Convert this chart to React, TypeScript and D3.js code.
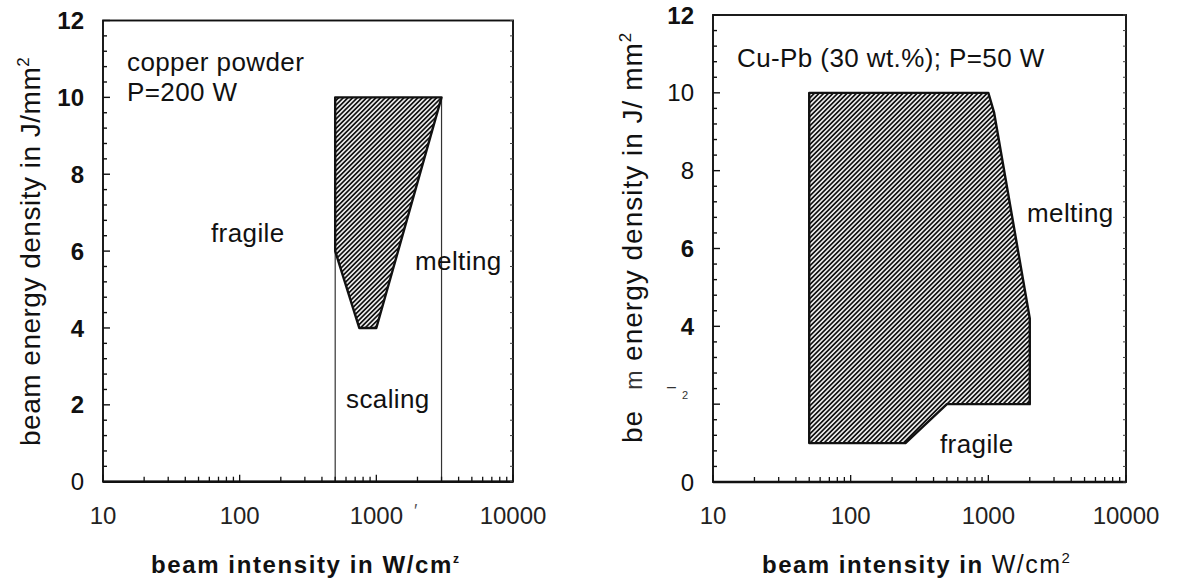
import React from "react";
import * as d3 from "d3";

const xTickValues = [10, 100, 1000, 10000];
const yTickValues = [0, 2, 4, 6, 8, 10, 12];

// left panel: copper powder, P=200 W
const copperRegion: [number, number][] = [[500, 10], [3000, 10], [1000, 4], [750, 4], [500, 6]];
const copperScalingBounds = [500, 3000];
const copperBoldTicks = [2, 4, 6, 8, 10, 12];

// right panel: Cu-Pb (30 wt.%), P=50 W
const cuPbRegion: [number, number][] = [[50, 10], [1000, 10], [1100, 9.5], [2000, 4.2], [2000, 2], [500, 2], [250, 1], [50, 1]];
const cuPbBoldTicks = [4, 6, 12];

const FONT = "'Liberation Sans', Arial, Helvetica, sans-serif";
const INK = "#111";

type PanelProps = {
  x0: number; x1: number; y0: number; y1: number;
  region: [number, number][];
  bounds?: number[];
  boldTicks: number[];
  skipTick?: number;
};

function Panel({ x0, x1, y0, y1, region, bounds = [], boldTicks, skipTick }: PanelProps) {
  const xs = d3.scaleLog().domain([10, 10000]).range([x0, x1]);
  const ys = d3.scaleLinear().domain([0, 12]).range([y1, y0]);
  const line = d3.line<[number, number]>().x(d => xs(d[0])).y(d => ys(d[1]));
  const minorY = d3.range(0, 12.001, 0.4);
  const logTicks = xs.ticks();

  return (
    <g>
      {/* boundary lines of the scaling window */}
      {bounds.map(b => (
        <line key={b} x1={xs(b)} x2={xs(b)} y1={ys(0)} y2={ys(10)} stroke="#333" strokeWidth={1.2} />
      ))}
      <path d={line(region) + "Z"} fill="url(#hatch)" stroke={INK} strokeWidth={2.4} strokeLinejoin="round" />

      {/* frame */}
      <rect x={x0} y={y0} width={x1 - x0} height={y1 - y0} fill="none" stroke={INK} strokeWidth={1.9} />
      <line x1={x0} x2={x1} y1={y1} y2={y1} stroke={INK} strokeWidth={2.6} />

      {/* y ticks, inward on both sides */}
      {minorY.map((v, i) => {
        const major = i % 5 === 0;
        return (
          <g key={i}>
            <line x1={x0} x2={x0 + (major ? 7 : 4)} y1={ys(v)} y2={ys(v)} stroke={INK} strokeWidth={1.4} />
            <line x1={x1} x2={x1 - 3} y1={ys(v)} y2={ys(v)} stroke="#444" strokeWidth={1} />
          </g>
        );
      })}
      {/* log ticks on bottom axis */}
      {logTicks.map(t => {
        const major = xTickValues.includes(t);
        return <line key={t} x1={xs(t)} x2={xs(t)} y1={y1} y2={y1 - (major ? 7 : 5)} stroke={INK} strokeWidth={1.3} />;
      })}

      {/* tick labels */}
      {yTickValues.filter(v => v !== skipTick).map(v => (
        <text key={v} x={x0 - 19} y={ys(v)} dy="0.36em" textAnchor="end" fontSize={24}
          fontWeight={boldTicks.includes(v) ? "bold" : "normal"} fill={INK}>{v}</text>
      ))}
      {xTickValues.map(t => (
        <text key={t} x={xs(t)} y={y1 + 42} textAnchor="middle" fontSize={24} fill="#222">{t}</text>
      ))}
    </g>
  );
}

export default function App() {
  return (
    <svg width={1177} height={586} style={{ position: "absolute", left: 0, top: 0, background: "#fff" }} fontFamily={FONT}>
      <defs>
        <pattern id="hatch" patternUnits="userSpaceOnUse" width={3.3} height={3.3} patternTransform="rotate(45)">
          <rect width={3.3} height={3.3} fill="#fff" />
          <line x1={1.65} x2={1.65} y1={0} y2={3.3} stroke={INK} strokeWidth={1.8} />
        </pattern>
      </defs>
      <rect width={1177} height={586} fill="#fff" />

      {/* left panel */}
      <Panel x0={103} x1={513} y0={20.5} y1={481.7} region={copperRegion} bounds={copperScalingBounds} boldTicks={copperBoldTicks} />
      <g fontSize={26} fill={INK} letterSpacing={0.4}>
        <text x={127} y={71}>copper powder</text>
        <text x={127} y={101}>P=200 W</text>
        <text x={211} y={242}>fragile</text>
        <text x={415} y={270}>melting</text>
        <text x={346} y={408}>scaling</text>
      </g>
      <text x={414} y={517} fontSize={18} fill="#555">′</text>
      <text transform="translate(40,446) rotate(-90)" fontSize={28} letterSpacing={0.5} fill={INK}>
        beam energy density in J/mm<tspan dy={-11} fontSize={17}>2</tspan>
      </text>
      <text x={151} y={573} fontSize={24} fontWeight="bold" letterSpacing={1.6} fill={INK}>
        beam intensity in W/cm<tspan dy={-10} fontSize={12}>z</tspan>
      </text>

      {/* right panel */}
      <Panel x0={713} x1={1126} y0={15} y1={482} region={cuPbRegion} boldTicks={cuPbBoldTicks} skipTick={2} />
      <g fontSize={26} fill={INK} letterSpacing={0.4}>
        <text x={737} y={67}>Cu-Pb (30 wt.%); P=50 W</text>
        <text x={1027} y={222}>melting</text>
        <text x={940} y={453}>fragile</text>
      </g>
      <text x={667} y={392} fontSize={16} fill="#333">–</text>
      <text x={682} y={399} fontSize={11} fill="#333">2</text>
      <text transform="translate(642,443) rotate(-90)" fontSize={28} letterSpacing={1} fill={INK}>
        <tspan>be</tspan>
        <tspan dx={20} fontSize={23} fontWeight={300} fill="#333">m</tspan>
        <tspan> energy density in J/ mm</tspan>
        <tspan dy={-11} fontSize={17}>2</tspan>
      </text>
      <text x={762} y={573} fontSize={24} letterSpacing={1.5} fill={INK}>
        <tspan fontWeight="bold">beam intensity in </tspan>
        <tspan fontSize={25}>W/cm</tspan>
        <tspan dy={-10} fontSize={15}>2</tspan>
      </text>
    </svg>
  );
}
